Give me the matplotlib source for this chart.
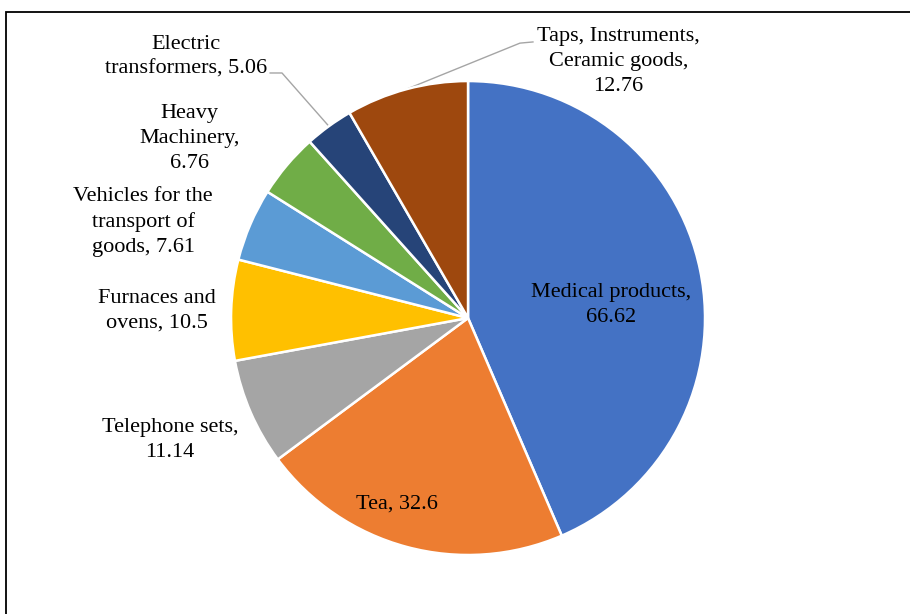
import numpy as np
import matplotlib
matplotlib.use('Agg')
import matplotlib.pyplot as plt
from matplotlib.patches import Rectangle

# Dados do gráfico
labels = ['Medical products,\n66.62', 'Tea, 32.6', 'Telephone sets,\n11.14',
          'Furnaces and\novens, 10.5', 'Vehicles for the\ntransport of\ngoods, 7.61',
          'Heavy\nMachinery,\n6.76', 'Electric\ntransformers, 5.06',
          'Taps, Instruments,\nCeramic goods,\n12.76']
values = [66.62, 32.6, 11.14, 10.5, 7.61, 6.76, 5.06, 12.76]
colors = ['#4472C4', '#ED7D31', '#A5A5A5', '#FFC000', '#5B9BD5',
          '#70AD47', '#264478', '#9E480E']

# posição dos rótulos (raio relativo, ângulo em graus)
label_pos = [(0.606, 5.2), (0.84, -110.9), (1.36, -157.7), (1.312, 178.7),
             (1.43, 163.5), (1.40, 147.2), (1.623, 137.2), (1.254, 59.6)]

plt.rcParams['font.family'] = ['Liberation Serif', 'DejaVu Serif']

fig = plt.figure(figsize=(9.1, 6.14), dpi=100)
ax = fig.add_axes([0, 0, 1, 1])

wedges, _ = ax.pie(values, colors=colors, startangle=90, counterclock=False,
                   radius=1, center=(0, 0), frame=True,
                   wedgeprops=dict(edgecolor='white', linewidth=1.8))
ax.set_xlim(-1.975, 1.865)
ax.set_ylim(-1.249, 1.342)
ax.set_aspect('auto')
ax.axis('off')

for lab, (r, ang) in zip(labels, label_pos):
    a = np.deg2rad(ang)
    ax.text(r * np.cos(a), r * np.sin(a), lab, ha='center', va='center',
            fontsize=16, linespacing=1.42, color='black')

# linhas de chamada
def mid_angle(w):
    return np.deg2rad((w.theta1 + w.theta2) / 2)

a = mid_angle(wedges[6])
ax.plot([np.cos(a), -0.785, -0.835], [np.sin(a), 1.034, 1.034],
        color='#A5A5A5', lw=1.0, zorder=0)
a = mid_angle(wedges[7])
ax.plot([np.cos(a), 0.219, 0.274], [np.sin(a), 1.160, 1.165],
        color='#A5A5A5', lw=1.0, zorder=0)

# moldura
fig.patches.append(Rectangle((6 / 910, -0.1), 1.2, 1.1 - 12 / 614,
                             transform=fig.transFigure, fill=False,
                             edgecolor='black', lw=1.3))

fig.savefig('out.png', dpi=100)
